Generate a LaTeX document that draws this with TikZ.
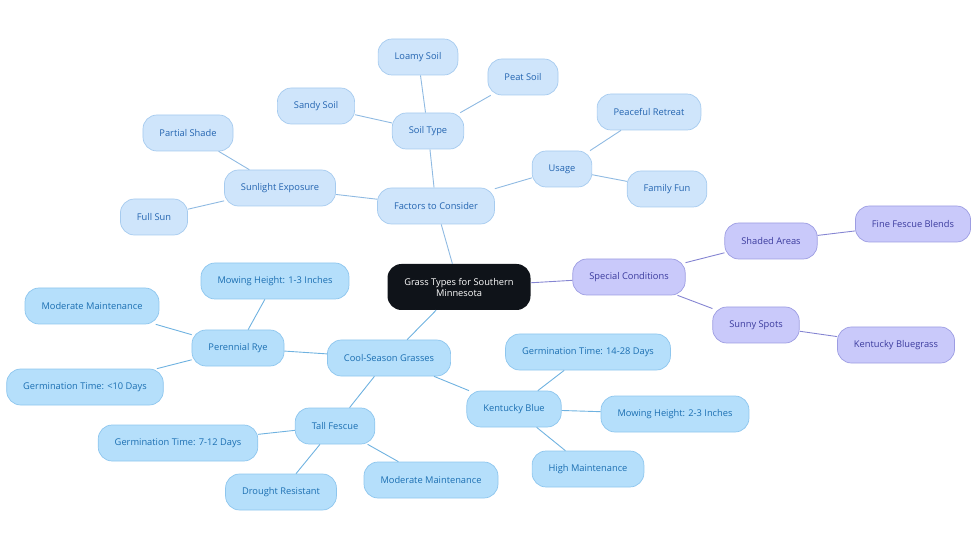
\documentclass[tikz,border=0pt]{standalone}
\usepackage{fontspec}
\setmainfont{Open Sans}
\usetikzlibrary{positioning}
\definecolor{fac-fill}{HTML}{CFE5FB}
\definecolor{fac-draw}{HTML}{A6CBEF}
\definecolor{fac-text}{HTML}{2364B0}
\definecolor{fac-line}{HTML}{8FBAE2}
\definecolor{cool-fill}{HTML}{B5DFFB}
\definecolor{cool-draw}{HTML}{8EC6EE}
\definecolor{cool-text}{HTML}{1B6FB2}
\definecolor{cool-line}{HTML}{6FB2E0}
\definecolor{spec-fill}{HTML}{C9C9FA}
\definecolor{spec-draw}{HTML}{9D9DE2}
\definecolor{spec-text}{HTML}{3B3B9E}
\definecolor{spec-line}{HTML}{8585D2}
\definecolor{root-fill}{HTML}{0F1319}

\begin{document}
\begin{tikzpicture}[x=1pt, y=-1pt,
    topic/.style={rectangle, draw=#1-draw, fill=#1-fill, text=#1-text, rounded corners=14pt, minimum height=36pt, inner xsep=16.5pt, align=center, font=\fontsize{9.3}{11}\selectfont, line width=0.7pt},
    root/.style={rectangle, fill=root-fill, text=white, rounded corners=14pt, minimum height=46pt, minimum width=143pt, align=center, font=\fontsize{9.3}{11}\selectfont},
    link/.style={line width=0.9pt, #1-line}]

    \useasboundingbox (0,0) rectangle (980,553);

    % Central topic
    \node[root] (grass) at (459,287) {Grass Types for Southern\\Minnesota};

    % Factors to consider
    \node[topic=fac] (factors) at (436,206) {Factors to Consider};
    \node[topic=fac] (soil) at (428,131) {Soil Type};
    \node[topic=fac] (loamy) at (418,57) {Loamy Soil};
    \node[topic=fac] (peat) at (523,77) {Peat Soil};
    \node[topic=fac] (sandy) at (316,106) {Sandy Soil};
    \node[topic=fac] (sun) at (280,188) {Sunlight Exposure};
    \node[topic=fac] (partial) at (188,133) {Partial Shade};
    \node[topic=fac] (fullsun) at (154,217) {Full Sun};
    \node[topic=fac] (usage) at (562,169) {Usage};
    \node[topic=fac] (retreat) at (649,112) {Peaceful Retreat};
    \node[topic=fac] (family) at (667,189) {Family Fun};

    % Special conditions
    \node[topic=spec] (special) at (629,277) {Special Conditions};
    \node[topic=spec] (shaded) at (771,241) {Shaded Areas};
    \node[topic=spec] (fescue) at (913,224) {Fine Fescue Blends};
    \node[topic=spec] (sunny) at (756,325) {Sunny Spots};
    \node[topic=spec] (bluegrass) at (896,345) {Kentucky Bluegrass};

    % Cool-season grasses
    \node[topic=cool] (coolseason) at (389,358) {Cool-Season Grasses};
    \node[topic=cool] (rye) at (238,348) {Perennial Rye};
    \node[topic=cool] (ryemow) at (275,281) {Mowing Height: 1-3 Inches};
    \node[topic=cool] (ryemaint) at (92,306) {Moderate Maintenance};
    \node[topic=cool] (ryegerm) at (85,387) {Germination Time: <10 Days};
    \node[topic=cool] (tall) at (335,426) {Tall Fescue};
    \node[topic=cool] (tallgerm) at (178,443) {Germination Time: 7-12 Days};
    \node[topic=cool] (drought) at (281,492) {Drought Resistant};
    \node[topic=cool] (tallmaint) at (431,480) {Moderate Maintenance};
    \node[topic=cool] (kyblue) at (514,409) {Kentucky Blue};
    \node[topic=cool] (kygerm) at (588,352) {Germination Time: 14-28 Days};
    \node[topic=cool] (kymow) at (675,414) {Mowing Height: 2-3 Inches};
    \node[topic=cool] (kymaint) at (588,469) {High Maintenance};

    % Connectors
    \draw[link=fac] (grass) -- (factors);
    \draw[link=fac] (factors) -- (soil);
    \draw[link=fac] (soil) -- (loamy);
    \draw[link=fac] (soil) -- (peat);
    \draw[link=fac] (soil) -- (sandy);
    \draw[link=fac] (factors) -- (sun);
    \draw[link=fac] (sun) -- (partial);
    \draw[link=fac] (sun) -- (fullsun);
    \draw[link=fac] (factors) -- (usage);
    \draw[link=fac] (usage) -- (retreat);
    \draw[link=fac] (usage) -- (family);

    \draw[link=spec] (grass) -- (special);
    \draw[link=spec] (special) -- (shaded);
    \draw[link=spec] (shaded) -- (fescue);
    \draw[link=spec] (special) -- (sunny);
    \draw[link=spec] (sunny) -- (bluegrass);

    \draw[link=cool] (grass) -- (coolseason);
    \draw[link=cool] (coolseason) -- (rye);
    \draw[link=cool] (rye) -- (ryemow);
    \draw[link=cool] (rye) -- (ryemaint);
    \draw[link=cool] (rye) -- (ryegerm);
    \draw[link=cool] (coolseason) -- (tall);
    \draw[link=cool] (tall) -- (tallgerm);
    \draw[link=cool] (tall) -- (drought);
    \draw[link=cool] (tall) -- (tallmaint);
    \draw[link=cool] (coolseason) -- (kyblue);
    \draw[link=cool] (kyblue) -- (kygerm);
    \draw[link=cool] (kyblue) -- (kymow);
    \draw[link=cool] (kyblue) -- (kymaint);
\end{tikzpicture}
\end{document}
